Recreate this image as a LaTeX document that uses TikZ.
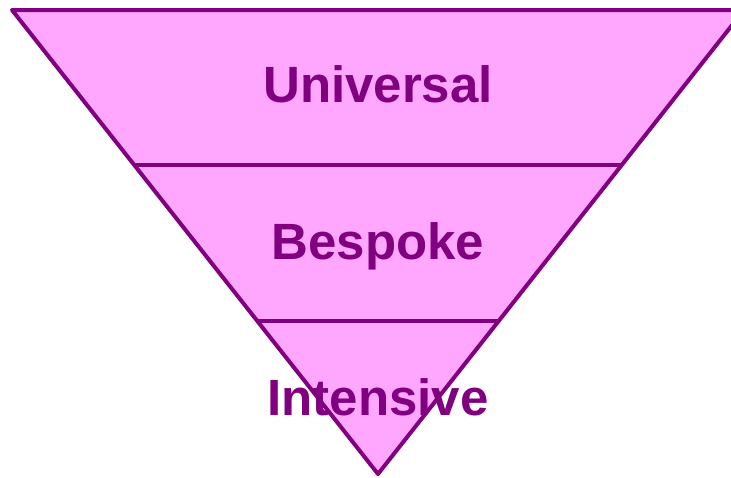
\documentclass[tikz,border=0pt]{standalone}
\usepackage{fontspec}
\setmainfont{Liberation Sans}
\definecolor{tierfill}{HTML}{FFA6FF}
\definecolor{tierline}{HTML}{800080}
\begin{document}
\begin{tikzpicture}[x=1pt, y=-1pt,
    tier/.style={font=\fontsize{51}{61}\selectfont\bfseries, text=tierline, anchor=base, inner sep=0pt}]
  \useasboundingbox (0,0) rectangle (731,477);
  \clip (0,0) rectangle (731,477);
  % funnel
  \coordinate (tl) at (12,10);
  \coordinate (tr) at (744,10);
  \coordinate (apex) at (378,474);
  \draw[tierline, fill=tierfill, line width=4pt, line join=round] (tl) -- (tr) -- (apex) -- cycle;
  \draw[tierline, line width=4pt] (134,165) -- (622,165);
  \draw[tierline, line width=4pt] (257,321) -- (499,321);
  % labels
  \node[tier] (universal) at (378,102) {Universal};
  \node[tier] (bespoke) at (378,259) {Bespoke};
  \node[tier] (intensive) at (378,415) {Intensive};
\end{tikzpicture}
\end{document}
